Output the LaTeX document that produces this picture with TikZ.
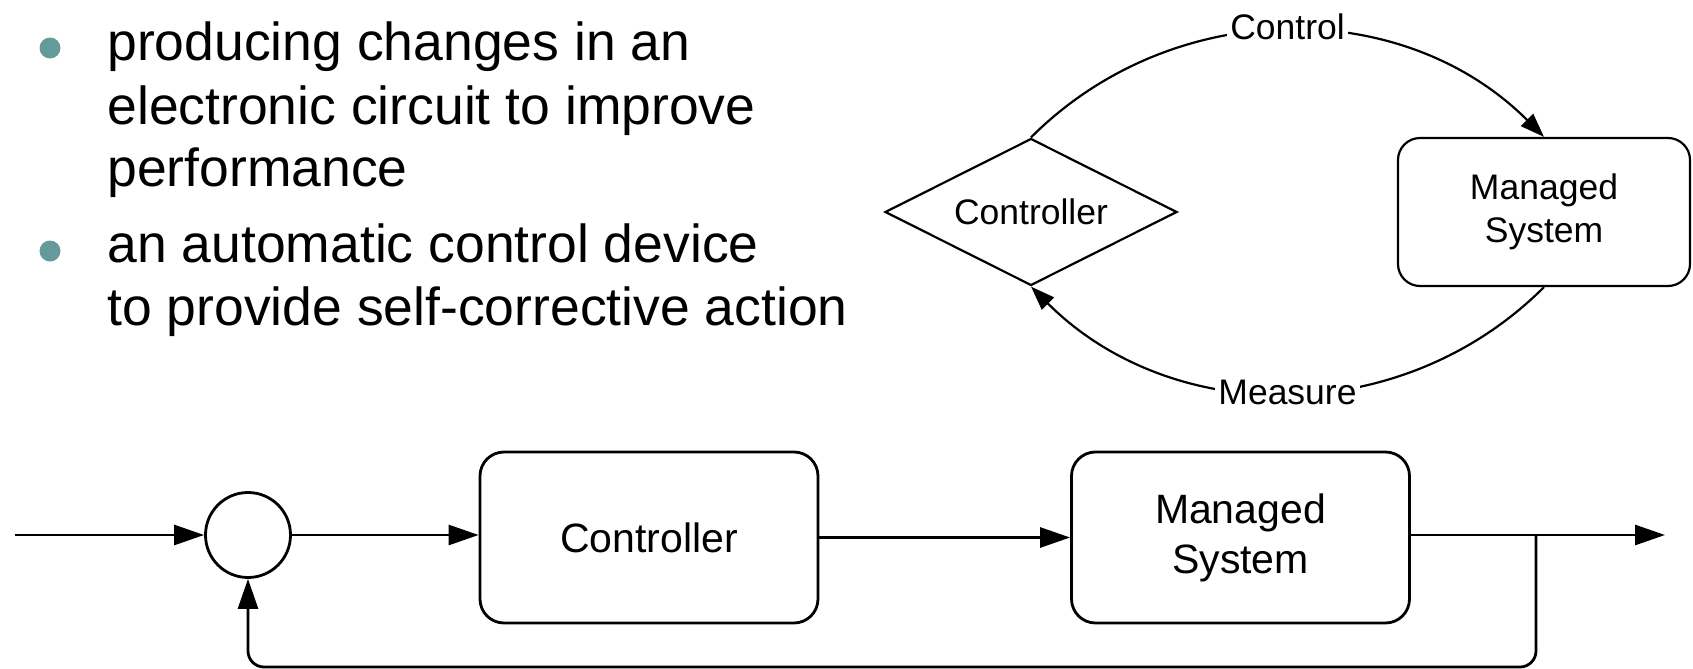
\documentclass[tikz,border=0pt]{standalone}
\usepackage{fontspec}
\setmainfont{Liberation Sans}
\usetikzlibrary{shapes.geometric,arrows.meta}
\definecolor{bulletteal}{RGB}{102,153,153}
\begin{document}
\begin{tikzpicture}[x=0.5pt, y=0.5pt,
  thinline/.style={draw=black, line width=1.1pt},
  thickline/.style={draw=black, line width=1.4pt},
  tip/.style={-{Triangle[length=12pt,width=8.5pt]}},
  bigtip/.style={-{Triangle[length=15pt,width=10pt]}},
  itemtext/.style={anchor=base west, inner sep=0pt, font=\fontsize{26.75}{31.25}\selectfont},
  dot/.style={circle, fill=bulletteal, inner sep=0pt, minimum size=10.5pt},
  smalltext/.style={font=\fontsize{17.75}{21.75}\selectfont},
  loopbox/.style={thinline, rounded corners=11pt, minimum width=146pt, minimum height=74pt, align=center, smalltext},
  blockbox/.style={thickline, rounded corners=12pt, minimum width=169pt, minimum height=85.5pt, align=center, font=\fontsize{20.5}{25}\selectfont},
  curvelabel/.style={fill=white, inner sep=1.5pt, smalltext}]
\useasboundingbox (0,0) rectangle (1693,-669);
\node[dot] (dota) at (50,-48) {};
\node[itemtext] (itema1) at (107,-61) {producing changes in an};
\node[itemtext] (itema2) at (107,-124) {electronic circuit to improve};
\node[itemtext] (itema3) at (107,-186.5) {performance};
\node[dot] (dotb) at (50,-251) {};
\node[itemtext] (itemb1) at (107,-262) {an automatic control device};
\node[itemtext] (itemb2) at (107,-325) {to provide self-corrective action};
\node[diamond, shape aspect=2, thinline, minimum width=146pt, minimum height=73.5pt, inner sep=0pt, smalltext] (ctl) at (1031,-212) {Controller};
\node[loopbox] (msys) at (1544,-212) {Managed\\System};
\draw[thinline, tip] (ctl.north) to[out=45, in=135] node[curvelabel, pos=0.5, yshift=2pt] (lblcontrol) {Control} (msys.north);
\draw[thinline, tip] (msys.south) to[out=225, in=-45] node[curvelabel, pos=0.5] (lblmeasure) {Measure} (ctl.south);
\node[circle, thickline, minimum size=42.5pt, inner sep=0pt] (sum) at (248,-535) {};
\node[blockbox] (ctrlblock) at (649,-537.5) {Controller};
\node[blockbox] (msblock) at (1240.5,-537.5) {Managed\\System};
\coordinate (in) at (15,-535);
\coordinate (out) at (1665,-535);
\coordinate (tap) at (1536,-535);
\coordinate (low) at (1536,-667);
\draw[thickline, bigtip] (in) -- (sum);
\draw[thickline, bigtip] (sum) -- (sum -| ctrlblock.west);
\draw[thickline, bigtip] (ctrlblock) -- (msblock);
\draw[thickline, bigtip] (msblock.east |- out) -- (out);
\draw[thickline, bigtip, rounded corners=8pt] (tap) -- (low) -- (low -| sum) -- (sum);
\end{tikzpicture}
\end{document}
